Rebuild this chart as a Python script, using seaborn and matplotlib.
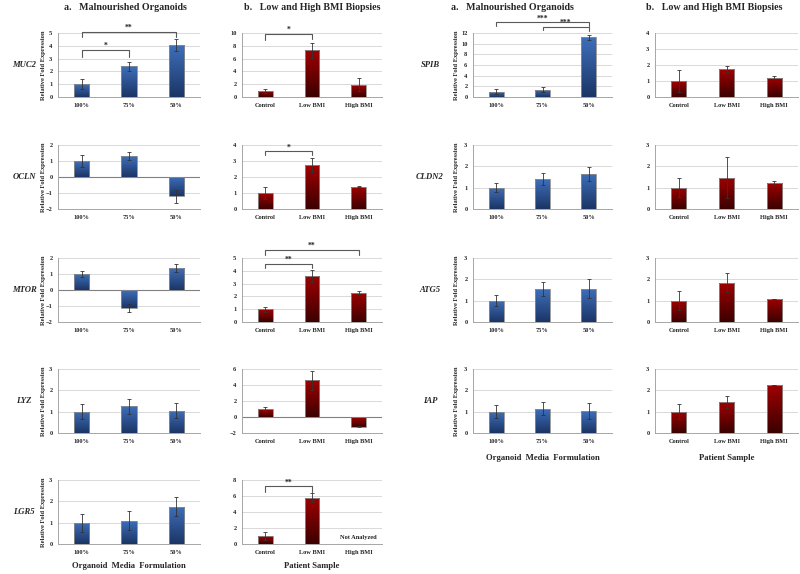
import matplotlib
matplotlib.use("Agg")
import matplotlib.pyplot as plt
import seaborn as sns
import numpy as np

# ---------------- data ----------------
organoid_groups = ["100%", "75%", "50%"]
biopsy_groups = ["Control", "Low BMI", "High BMI"]

# panel a: malnourished organoids (mean, error)
muc2_org = [1.0, 2.4, 4.05]
muc2_org_err = [0.4, 0.35, 0.45]
ocln_org = [1.0, 1.3, -1.2]
ocln_org_err = [0.4, 0.25, 0.4]
mtor_org = [1.0, -1.1, 1.35]
mtor_org_err = [0.18, 0.25, 0.25]
lyz_org = [1.0, 1.25, 1.05]
lyz_org_err = [0.35, 0.35, 0.35]
lgr5_org = [1.0, 1.1, 1.75]
lgr5_org_err = [0.42, 0.43, 0.45]
spib_org = [1.0, 1.4, 11.2]
spib_org_err = [0.5, 0.5, 0.5]
cldn2_org = [1.0, 1.4, 1.65]
cldn2_org_err = [0.2, 0.27, 0.33]
atg5_org = [1.0, 1.53, 1.57]
atg5_org_err = [0.25, 0.33, 0.43]
iap_org = [1.0, 1.13, 1.02]
iap_org_err = [0.3, 0.3, 0.37]

# panel b: low and high BMI biopsies (mean, error)
muc2_bmi = [1.0, 7.3, 1.9]
muc2_bmi_err = [0.3, 1.2, 1.0]
ocln_bmi = [1.0, 2.75, 1.4]
ocln_bmi_err = [0.35, 0.45, 0.05]
mtor_bmi = [1.0, 3.6, 2.3]
mtor_bmi_err = [0.18, 0.45, 0.15]
lyz_bmi = [1.0, 4.6, -1.2]
lyz_bmi_err = [0.2, 1.2, 0.1]
lgr5_bmi = [1.0, 5.8, np.nan]      # high BMI not analyzed
lgr5_bmi_err = [0.45, 0.55, np.nan]
spib_bmi = [1.0, 1.75, 1.2]
spib_bmi_err = [0.7, 0.2, 0.1]
cldn2_bmi = [1.0, 1.47, 1.22]
cldn2_bmi_err = [0.45, 0.95, 0.08]
atg5_bmi = [1.0, 1.85, 1.1]
atg5_bmi_err = [0.45, 0.45, 0.0]
iap_bmi = [1.0, 1.45, 2.27]
iap_bmi_err = [0.35, 0.27, 0.0]

# significance brackets: (from, to, bracket height, left leg end, right leg end, stars)
muc2_org_sig = [(0, 1, 3.65, 3.1, 3.1, "*"), (0, 2, 5.08, 4.65, 4.65, "**")]
muc2_bmi_sig = [(0, 1, 9.8, 8.9, 9.0, "*")]
ocln_bmi_sig = [(0, 1, 3.6, 3.35, 3.35, "*")]
mtor_bmi_sig = [(0, 1, 4.56, 4.24, 4.24, "**"), (0, 2, 5.63, 5.25, 5.25, "**")]
lgr5_bmi_sig = [(0, 1, 7.2, 6.5, 6.5, "**")]
spib_org_sig = [(1, 2, 13.2, 12.6, 12.4, "***"), (0, 2, 14.0, 13.3, 13.3, "***")]

# ---------------- layout (pixels in a 800x574 figure) ----------------
W, H = 800, 574
col_x = [(58, 200), (242, 382), (473, 612), (655, 798)]
ylab_x = {0: 46, 2: 459}      # right edge of the rotated y label
gene_x = {0: 24, 2: 430}      # where the gene name sits
row_top = [33, 145, 258, 369, 480]
ax_h = 64

BLUE_TOP, BLUE_BOT = "#3F6FBA", "#1B3566"
RED_TOP, RED_BOT = "#A00000", "#3C0000"

# panel table: gene, column, row, groups, values, errors, y ticks, brackets
panels = [
    ("MUC2", 0, 0, organoid_groups, muc2_org, muc2_org_err, np.arange(0, 6, 1), muc2_org_sig),
    ("MUC2", 1, 0, biopsy_groups, muc2_bmi, muc2_bmi_err, np.arange(0, 11, 2), muc2_bmi_sig),
    ("OCLN", 0, 1, organoid_groups, ocln_org, ocln_org_err, np.arange(-2, 3, 1), []),
    ("OCLN", 1, 1, biopsy_groups, ocln_bmi, ocln_bmi_err, np.arange(0, 5, 1), ocln_bmi_sig),
    ("MTOR", 0, 2, organoid_groups, mtor_org, mtor_org_err, np.arange(-2, 3, 1), []),
    ("MTOR", 1, 2, biopsy_groups, mtor_bmi, mtor_bmi_err, np.arange(0, 6, 1), mtor_bmi_sig),
    ("LYZ", 0, 3, organoid_groups, lyz_org, lyz_org_err, np.arange(0, 4, 1), []),
    ("LYZ", 1, 3, biopsy_groups, lyz_bmi, lyz_bmi_err, np.arange(-2, 7, 2), []),
    ("LGR5", 0, 4, organoid_groups, lgr5_org, lgr5_org_err, np.arange(0, 4, 1), []),
    ("LGR5", 1, 4, biopsy_groups, lgr5_bmi, lgr5_bmi_err, np.arange(0, 9, 2), lgr5_bmi_sig),
    ("SPIB", 2, 0, organoid_groups, spib_org, spib_org_err, np.arange(0, 13, 2), spib_org_sig),
    ("SPIB", 3, 0, biopsy_groups, spib_bmi, spib_bmi_err, np.arange(0, 5, 1), []),
    ("CLDN2", 2, 1, organoid_groups, cldn2_org, cldn2_org_err, np.arange(0, 4, 1), []),
    ("CLDN2", 3, 1, biopsy_groups, cldn2_bmi, cldn2_bmi_err, np.arange(0, 4, 1), []),
    ("ATG5", 2, 2, organoid_groups, atg5_org, atg5_org_err, np.arange(0, 4, 1), []),
    ("ATG5", 3, 2, biopsy_groups, atg5_bmi, atg5_bmi_err, np.arange(0, 4, 1), []),
    ("IAP", 2, 3, organoid_groups, iap_org, iap_org_err, np.arange(0, 4, 1), []),
    ("IAP", 3, 3, biopsy_groups, iap_bmi, iap_bmi_err, np.arange(0, 4, 1), []),
]

sns.set_style("white")
plt.rcParams['font.family'] = ['Liberation Serif', 'DejaVu Serif']
plt.rcParams['font.weight'] = 'bold'


def gradient(top, bot, n=64):
    # vertical colour ramp from top colour to bottom colour
    c1 = np.array(matplotlib.colors.to_rgb(top))
    c2 = np.array(matplotlib.colors.to_rgb(bot))
    t = np.linspace(0, 1, n)[:, None]
    return (c1 * (1 - t) + c2 * t)[:, None, :]


fig = plt.figure(figsize=(W / 100, H / 100), dpi=100)

for gene, col, row, groups, vals, errs, yticks, sigs in panels:
    x0, x1 = col_x[col]
    top = row_top[row]
    ax = fig.add_axes([x0 / W, 1 - (top + ax_h) / H, (x1 - x0) / W, ax_h / H])

    is_org = col in (0, 2)
    top_c, bot_c = (BLUE_TOP, BLUE_BOT) if is_org else (RED_TOP, RED_BOT)

    sns.barplot(x=groups, y=vals, color=top_c, width=0.32, ax=ax,
                edgecolor="#8C8C8C", linewidth=0.6, zorder=3)

    # shade each bar with a vertical gradient like the original figure
    img = gradient(top_c, bot_c)
    for p in ax.patches:
        h = p.get_height()
        if not np.isfinite(h) or h == 0:
            continue
        px, py, pw = p.get_x(), p.get_y(), p.get_width()
        lo, hi = min(py, py + h), max(py, py + h)
        im = ax.imshow(img, extent=[px, px + pw, lo, hi], aspect="auto",
                       origin="upper", zorder=3)
        im.set_clip_path(p)
        p.set_facecolor("none")
        p.set_zorder(4)

    ax.errorbar(range(len(vals)), vals, yerr=errs, fmt="none", ecolor="#333333",
                elinewidth=0.6, capsize=1.2, capthick=0.6, zorder=5)

    ax.set_xlim(-0.5, 2.5)
    ax.set_ylim(yticks[0], yticks[-1])
    ax.set_yticks(yticks)
    ax.yaxis.grid(True, color="#D9D9D9", linewidth=0.7, zorder=0)
    ax.set_axisbelow(True)
    if yticks[0] < 0:
        ax.axhline(0, color="#808080", linewidth=0.8, zorder=2)

    for s in ["top", "right"]:
        ax.spines[s].set_visible(False)
    for s in ["left", "bottom"]:
        ax.spines[s].set_color("#A6A6A6")
        ax.spines[s].set_linewidth(0.7)
    ax.tick_params(axis="both", length=0, labelsize=4.6, pad=4)
    for lab in ax.get_xticklabels() + ax.get_yticklabels():
        lab.set_fontweight("bold")
    ax.set_xlabel("")
    if is_org:
        ax.set_ylabel("Relative Fold Expression", fontsize=4.7, fontweight="bold")
        ax.yaxis.set_label_coords((ylab_x[col] - x0) / (x1 - x0), 0.5)
    else:
        ax.set_ylabel("")

    # significance brackets
    for i, j, yb, yl, yr, stars in sigs:
        ax.plot([i, i, j, j], [yl, yb, yb, yr], color="#595959", lw=0.8,
                clip_on=False, zorder=6)
        ax.text((i + j) / 2, yb, stars, ha="center", va="bottom", fontsize=5.5,
                fontweight="bold", color="#222222", clip_on=False)

    if gene == "LGR5" and not is_org:
        ax.text(2, 0.8, "Not Analyzed", ha="center", va="center", fontsize=4.6,
                fontweight="bold", color="#222222")

    # gene name to the left of the organoid panel
    if is_org:
        fig.text(gene_x[col] / W, 1 - (top + ax_h / 2) / H, gene, ha="center",
                 va="center", fontsize=6.2, fontweight="bold", style="italic")

# column headers
hdr = dict(ha="center", va="center", fontsize=7.2, fontweight="bold")
fig.text(125 / W, 1 - 7 / H, "a.   Malnourished Organoids", **hdr)
fig.text(312 / W, 1 - 7 / H, "b.   Low and High BMI Biopsies", **hdr)
fig.text(512 / W, 1 - 7 / H, "a.   Malnourished Organoids", **hdr)
fig.text(714 / W, 1 - 7 / H, "b.   Low and High BMI Biopsies", **hdr)

# bottom axis titles
ftr = dict(ha="center", va="center", fontsize=6.2, fontweight="bold")
fig.text(129 / W, 1 - 566 / H, "Organoid  Media  Formulation", **ftr)
fig.text(312 / W, 1 - 566 / H, "Patient Sample", **ftr)
fig.text(543 / W, 1 - 458 / H, "Organoid  Media  Formulation", **ftr)
fig.text(727 / W, 1 - 458 / H, "Patient Sample", **ftr)

fig.savefig("out.png", dpi=100, facecolor="white")
